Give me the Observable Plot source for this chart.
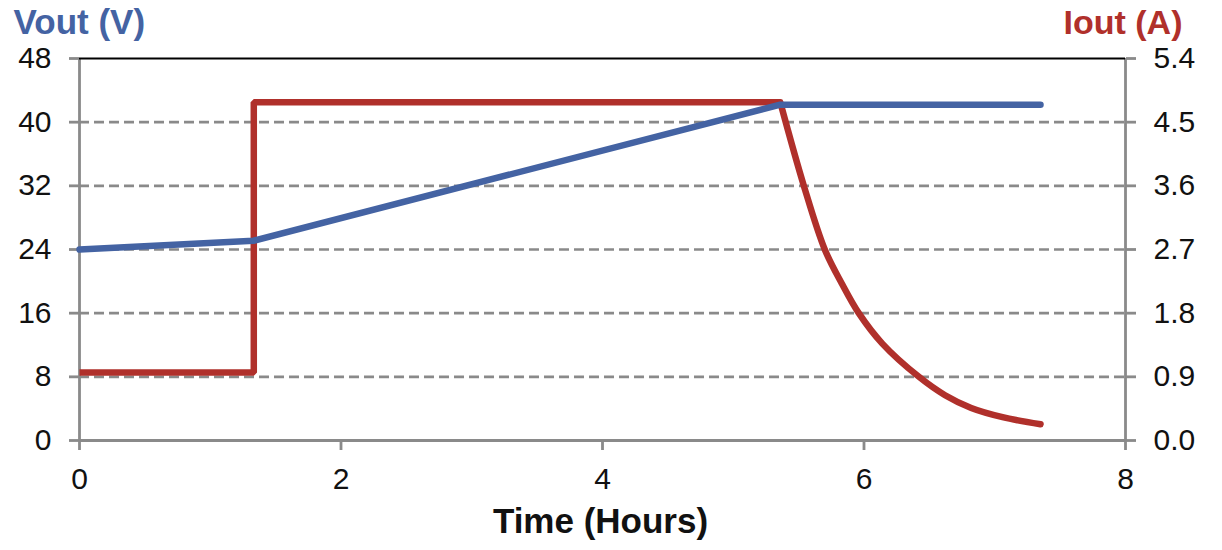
<!DOCTYPE html>
<html>
<head>
<meta charset="utf-8">
<script src="https://cdn.jsdelivr.net/npm/d3@7"></script>
<script src="https://cdn.jsdelivr.net/npm/@observablehq/plot@0.6"></script>
<style>
  html, body { margin: 0; padding: 0; background: #fff; }
  #chart svg { display: block; }
</style>
</head>
<body>
<div id="chart"></div>
<script>
// ---- data ----
const xTicks = [0, 2, 4, 6, 8];
const vTicks = [0, 8, 16, 24, 32, 40, 48];
const gridV = [8, 16, 24, 32, 40];
const iMax = 5.4;      // right axis top (A)
const vMax = 48;       // left axis top (V)

// Vout (V) vs time (hours)
const voutTime = [0, 1.33, 5.36, 7.35];
const voutVal  = [24, 25.1, 42.2, 42.2];

// Iout (A): constant-current step portion
const iStepTime = [0, 1.333, 1.333, 5.36];
const iStepVal  = [0.96, 0.96, 4.78, 4.78];

// Iout (A): decay (constant-voltage) portion
const iDecayTime = [5.36, 5.54, 5.70, 5.83, 5.96, 6.14, 6.42, 6.62, 6.82, 7.06, 7.35];
const iDecayVal  = [4.78, 3.60, 2.70, 2.22, 1.80, 1.37, 0.90, 0.64, 0.46, 0.33, 0.23];

// ---- tables ----
const toV = a => a * vMax / iMax;
const vout = voutTime.map((t, i) => ({t, v: voutVal[i]}));
const iStep = iStepTime.map((t, i) => ({t, v: toV(iStepVal[i])}));
const iDecay = iDecayTime.map((t, i) => ({t, v: toV(iDecayVal[i])}));

const blue = "#4463a3";
const red = "#b0302b";
const axisGray = "#8a8a8a";
const font = "'Liberation Sans', Arial, Helvetica, sans-serif";

const chart = Plot.plot({
  width: 1222,
  height: 550,
  marginLeft: 79,
  marginRight: 97,
  marginTop: 58,
  marginBottom: 110,
  style: {fontFamily: font, background: "#fff", color: "#111"},
  x: {domain: [0, 8]},
  y: {domain: [0, vMax]},
  marks: [
    // dashed gridlines
    Plot.ruleY(gridV, {stroke: axisGray, strokeWidth: 2.7, strokeDasharray: "10,5"}),
    // frame lines
    Plot.ruleY([0], {stroke: axisGray, strokeWidth: 2.8}),
    Plot.ruleX([0], {stroke: axisGray, strokeWidth: 2.8}),
    Plot.ruleX([8], {stroke: axisGray, strokeWidth: 2.8}),
    Plot.ruleY([vMax], {stroke: "#000", strokeWidth: 2}),
    // axes
    Plot.axisY({anchor: "left", ticks: vTicks, tickSize: 10, tickPadding: 18,
      stroke: axisGray, strokeWidth: 2.8, fill: "#111", fontSize: 30, label: null,
      tickFormat: d => String(d)}),
    Plot.axisY({anchor: "right", ticks: vTicks, tickSize: 10, tickPadding: 18,
      stroke: axisGray, strokeWidth: 2.8, fill: "#111", fontSize: 30, label: null,
      tickFormat: d => (d * iMax / vMax).toFixed(1)}),
    Plot.axisX({anchor: "bottom", ticks: xTicks, tickSize: 10, tickPadding: 17,
      stroke: axisGray, strokeWidth: 2.8, fill: "#111", fontSize: 30, label: null,
      tickFormat: d => String(d)}),
    // Iout
    Plot.line(iStep, {x: "t", y: "v", stroke: red, strokeWidth: 6.5, strokeLinejoin: "miter", strokeLinecap: "butt"}),
    Plot.line(iDecay, {x: "t", y: "v", stroke: red, strokeWidth: 6.5, curve: "catmull-rom", strokeLinecap: "round"}),
    // Vout
    Plot.line(vout, {x: "t", y: "v", stroke: blue, strokeWidth: 6.5, strokeLinecap: "round", strokeLinejoin: "round"}),
    // titles
    Plot.text(["Vout (V)"], {frameAnchor: "top-left", textAnchor: "start", lineAnchor: "bottom",
      dx: -66, dy: -25, fontSize: 35, fontWeight: "bold", fill: blue}),
    Plot.text(["Iout (A)"], {frameAnchor: "top-right", textAnchor: "end", lineAnchor: "bottom",
      dx: 57, dy: -25, fontSize: 34, fontWeight: "bold", fill: red}),
    Plot.text(["Time (Hours)"], {frameAnchor: "bottom", textAnchor: "middle", lineAnchor: "bottom",
      dx: -2, dy: 92, fontSize: 35, fontWeight: "bold", fill: "#111"})
  ]
});
document.getElementById("chart").appendChild(chart);
</script>
</body>
</html>
